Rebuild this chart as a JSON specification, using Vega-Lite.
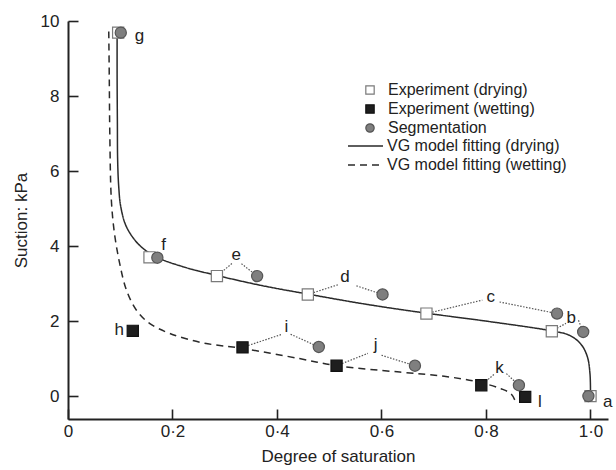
{
  "$schema": "https://vega.github.io/schema/vega-lite/v6.json",
  "width": 540,
  "height": 398,
  "autosize": {"type": "none"},
  "padding": {"left": 68, "top": 21, "right": 8, "bottom": 51},
  "background": "white",
  "config": {
    "view": {"stroke": null},
    "font": "Liberation Sans",
    "axis": {
      "grid": false,
      "domainColor": "#222",
      "domainWidth": 2,
      "tickColor": "#222",
      "tickWidth": 1.6,
      "tickSize": -10,
      "labelFont": "Liberation Sans",
      "labelFontSize": 17,
      "labelColor": "#222",
      "titleFont": "Liberation Sans",
      "titleFontSize": 17,
      "titleFontWeight": "normal",
      "titleColor": "#222"
    },
    "legend": {
      "labelFont": "Liberation Sans",
      "labelFontSize": 16,
      "labelColor": "#222",
      "labelLimit": 0,
      "padding": 0
    }
  },
  "datasets": {
    "pts": [
      {"series": "Experiment (drying)", "x": 0.096, "y": 9.69},
      {"series": "Experiment (drying)", "x": 0.156, "y": 3.70},
      {"series": "Experiment (drying)", "x": 0.285, "y": 3.20},
      {"series": "Experiment (drying)", "x": 0.459, "y": 2.71},
      {"series": "Experiment (drying)", "x": 0.686, "y": 2.20},
      {"series": "Experiment (drying)", "x": 0.926, "y": 1.73},
      {"series": "Experiment (drying)", "x": 1.0, "y": 0.0},
      {"series": "Experiment (wetting)", "x": 0.124, "y": 1.74},
      {"series": "Experiment (wetting)", "x": 0.334, "y": 1.30},
      {"series": "Experiment (wetting)", "x": 0.514, "y": 0.81},
      {"series": "Experiment (wetting)", "x": 0.791, "y": 0.29},
      {"series": "Experiment (wetting)", "x": 0.875, "y": -0.02},
      {"series": "Segmentation", "x": 0.101, "y": 9.69},
      {"series": "Segmentation", "x": 0.171, "y": 3.69},
      {"series": "Segmentation", "x": 0.362, "y": 3.20},
      {"series": "Segmentation", "x": 0.602, "y": 2.71},
      {"series": "Segmentation", "x": 0.936, "y": 2.20},
      {"series": "Segmentation", "x": 0.986, "y": 1.71},
      {"series": "Segmentation", "x": 0.996, "y": 0.0},
      {"series": "Segmentation", "x": 0.480, "y": 1.31},
      {"series": "Segmentation", "x": 0.664, "y": 0.81},
      {"series": "Segmentation", "x": 0.863, "y": 0.29}
    ],
    "vg": [
      {"series": "VG model fitting (drying)", "i": 0, "x": 0.094, "y": 9.72},
      {"series": "VG model fitting (drying)", "i": 1, "x": 0.094, "y": 8.5},
      {"series": "VG model fitting (drying)", "i": 2, "x": 0.0945, "y": 7.3},
      {"series": "VG model fitting (drying)", "i": 3, "x": 0.095, "y": 6.3},
      {"series": "VG model fitting (drying)", "i": 4, "x": 0.097, "y": 5.6},
      {"series": "VG model fitting (drying)", "i": 5, "x": 0.101, "y": 5.05},
      {"series": "VG model fitting (drying)", "i": 6, "x": 0.112, "y": 4.51},
      {"series": "VG model fitting (drying)", "i": 7, "x": 0.137, "y": 4.02},
      {"series": "VG model fitting (drying)", "i": 8, "x": 0.169, "y": 3.71},
      {"series": "VG model fitting (drying)", "i": 9, "x": 0.22, "y": 3.45},
      {"series": "VG model fitting (drying)", "i": 10, "x": 0.284, "y": 3.22},
      {"series": "VG model fitting (drying)", "i": 11, "x": 0.37, "y": 2.95},
      {"series": "VG model fitting (drying)", "i": 12, "x": 0.459, "y": 2.72},
      {"series": "VG model fitting (drying)", "i": 13, "x": 0.57, "y": 2.45},
      {"series": "VG model fitting (drying)", "i": 14, "x": 0.686, "y": 2.21},
      {"series": "VG model fitting (drying)", "i": 15, "x": 0.80, "y": 2.0},
      {"series": "VG model fitting (drying)", "i": 16, "x": 0.925, "y": 1.74},
      {"series": "VG model fitting (drying)", "i": 17, "x": 0.960, "y": 1.62},
      {"series": "VG model fitting (drying)", "i": 18, "x": 0.982, "y": 1.38},
      {"series": "VG model fitting (drying)", "i": 19, "x": 0.994, "y": 1.05},
      {"series": "VG model fitting (drying)", "i": 20, "x": 0.999, "y": 0.6},
      {"series": "VG model fitting (drying)", "i": 21, "x": 1.0, "y": 0.05},
      {"series": "VG model fitting (wetting)", "i": 0, "x": 0.078, "y": 9.72},
      {"series": "VG model fitting (wetting)", "i": 1, "x": 0.079, "y": 8.5},
      {"series": "VG model fitting (wetting)", "i": 2, "x": 0.080, "y": 7.0},
      {"series": "VG model fitting (wetting)", "i": 3, "x": 0.083, "y": 5.22},
      {"series": "VG model fitting (wetting)", "i": 4, "x": 0.089, "y": 4.33},
      {"series": "VG model fitting (wetting)", "i": 5, "x": 0.099, "y": 3.53},
      {"series": "VG model fitting (wetting)", "i": 6, "x": 0.112, "y": 2.82},
      {"series": "VG model fitting (wetting)", "i": 7, "x": 0.131, "y": 2.29},
      {"series": "VG model fitting (wetting)", "i": 8, "x": 0.156, "y": 1.94},
      {"series": "VG model fitting (wetting)", "i": 9, "x": 0.195, "y": 1.67},
      {"series": "VG model fitting (wetting)", "i": 10, "x": 0.258, "y": 1.42},
      {"series": "VG model fitting (wetting)", "i": 11, "x": 0.335, "y": 1.27},
      {"series": "VG model fitting (wetting)", "i": 12, "x": 0.443, "y": 1.0},
      {"series": "VG model fitting (wetting)", "i": 13, "x": 0.514, "y": 0.81},
      {"series": "VG model fitting (wetting)", "i": 14, "x": 0.635, "y": 0.64},
      {"series": "VG model fitting (wetting)", "i": 15, "x": 0.72, "y": 0.53},
      {"series": "VG model fitting (wetting)", "i": 16, "x": 0.79, "y": 0.36},
      {"series": "VG model fitting (wetting)", "i": 17, "x": 0.83, "y": 0.19},
      {"series": "VG model fitting (wetting)", "i": 18, "x": 0.848, "y": 0.06},
      {"series": "VG model fitting (wetting)", "i": 19, "x": 0.855, "y": -0.1}
    ],
    "links": [
      {"x": 0.285, "y": 3.20, "x2": 0.315, "y2": 3.55},
      {"x": 0.332, "y": 3.53, "x2": 0.362, "y2": 3.20},
      {"x": 0.459, "y": 2.71, "x2": 0.517, "y2": 2.97},
      {"x": 0.552, "y": 2.94, "x2": 0.602, "y2": 2.71},
      {"x": 0.686, "y": 2.20, "x2": 0.793, "y2": 2.56},
      {"x": 0.826, "y": 2.51, "x2": 0.936, "y2": 2.20},
      {"x": 0.926, "y": 1.73, "x2": 0.953, "y2": 1.94},
      {"x": 0.977, "y": 2.02, "x2": 0.986, "y2": 1.71},
      {"x": 0.334, "y": 1.30, "x2": 0.410, "y2": 1.65},
      {"x": 0.426, "y": 1.65, "x2": 0.480, "y2": 1.31},
      {"x": 0.514, "y": 0.81, "x2": 0.574, "y2": 1.14},
      {"x": 0.600, "y": 1.09, "x2": 0.664, "y2": 0.81},
      {"x": 0.791, "y": 0.29, "x2": 0.817, "y2": 0.60},
      {"x": 0.839, "y": 0.60, "x2": 0.863, "y2": 0.29}
    ],
    "labels": [
      {"t": "a", "x": 1.033, "y": -0.15},
      {"t": "b", "x": 0.963, "y": 2.07},
      {"t": "c", "x": 0.809, "y": 2.64},
      {"t": "d", "x": 0.530, "y": 3.18},
      {"t": "e", "x": 0.322, "y": 3.75},
      {"t": "f", "x": 0.183, "y": 4.02},
      {"t": "g", "x": 0.137, "y": 9.6},
      {"t": "h", "x": 0.098, "y": 1.76},
      {"t": "i", "x": 0.418, "y": 1.83},
      {"t": "j", "x": 0.589, "y": 1.36},
      {"t": "k", "x": 0.826, "y": 0.74},
      {"t": "l", "x": 0.903, "y": -0.15}
    ]
  },
  "encoding": {
    "x": {
      "field": "x", "type": "quantitative",
      "scale": {"domain": [0, 1.0335], "nice": false, "zero": false},
      "axis": {
        "title": "Degree of saturation",
        "values": [0, 0.2, 0.4, 0.6, 0.8, 1.0],
        "labelExpr": "datum.value == 0 ? '0' : replace(format(datum.value, '.1f'), '.', '·')",
        "labelPadding": 14,
        "titlePadding": 9,
        "labelFlush": false
      }
    },
    "y": {
      "field": "y", "type": "quantitative",
      "scale": {"domain": [-0.61, 10], "nice": false, "zero": false},
      "axis": {
        "title": "Suction: kPa",
        "values": [0, 2, 4, 6, 8, 10],
        "labelPadding": 19,
        "titlePadding": 10,
        "labelFlush": false
      }
    }
  },
  "layer": [
    {
      "data": {"name": "links"},
      "mark": {"type": "rule", "color": "#555", "strokeWidth": 1.2, "strokeDash": [1.5, 1.5]},
      "encoding": {
        "x2": {"field": "x2"},
        "y2": {"field": "y2"}
      }
    },
    {
      "data": {"name": "vg"},
      "mark": {"type": "line", "color": "#2a2a2a", "strokeWidth": 1.5, "interpolate": "catmull-rom"},
      "encoding": {
        "order": {"field": "i", "type": "quantitative"},
        "strokeDash": {
          "field": "series", "type": "nominal",
          "scale": {"domain": ["VG model fitting (drying)", "VG model fitting (wetting)"], "range": [[1, 0], [7, 5]]},
          "legend": {
            "title": null,
            "orient": "none",
            "legendX": 279,
            "legendY": 117,
            "symbolType": "stroke",
            "symbolSize": 1225,
            "symbolStrokeWidth": 1.5,
            "symbolStrokeColor": "#2a2a2a",
            "clipHeight": 16,
            "labelOffset": 3,
            "rowPadding": 3
          }
        }
      }
    },
    {
      "data": {"name": "pts"},
      "mark": {"type": "point", "filled": true, "size": 125, "strokeWidth": 1.2, "opacity": 1},
      "encoding": {
        "shape": {
          "field": "series", "type": "nominal",
          "scale": {"domain": ["Experiment (drying)", "Experiment (wetting)", "Segmentation"], "range": ["square", "square", "circle"]},
          "legend": {
            "title": null,
            "orient": "none",
            "legendX": 294,
            "legendY": 61,
            "symbolSize": 70,
            "symbolStrokeWidth": 1.2,
            "labelOffset": 10,
            "rowPadding": 3
          }
        },
        "fill": {
          "field": "series", "type": "nominal",
          "scale": {"domain": ["Experiment (drying)", "Experiment (wetting)", "Segmentation"], "range": ["#ffffff", "#1e1e1e", "#7f7f7f"]},
          "legend": {
            "title": null,
            "orient": "none",
            "legendX": 294,
            "legendY": 61,
            "symbolSize": 70,
            "symbolStrokeWidth": 1.2,
            "labelOffset": 10,
            "rowPadding": 3
          }
        },
        "stroke": {
          "field": "series", "type": "nominal",
          "scale": {"domain": ["Experiment (drying)", "Experiment (wetting)", "Segmentation"], "range": ["#7a7a7a", "#111111", "#555555"]},
          "legend": {
            "title": null,
            "orient": "none",
            "legendX": 294,
            "legendY": 61,
            "symbolSize": 70,
            "symbolStrokeWidth": 1.2,
            "labelOffset": 10,
            "rowPadding": 3
          }
        }
      }
    },
    {
      "data": {"name": "labels"},
      "mark": {"type": "text", "font": "Liberation Sans", "fontSize": 17, "color": "#222", "align": "center", "baseline": "middle"},
      "encoding": {
        "text": {"field": "t", "type": "nominal"}
      }
    }
  ]
}
